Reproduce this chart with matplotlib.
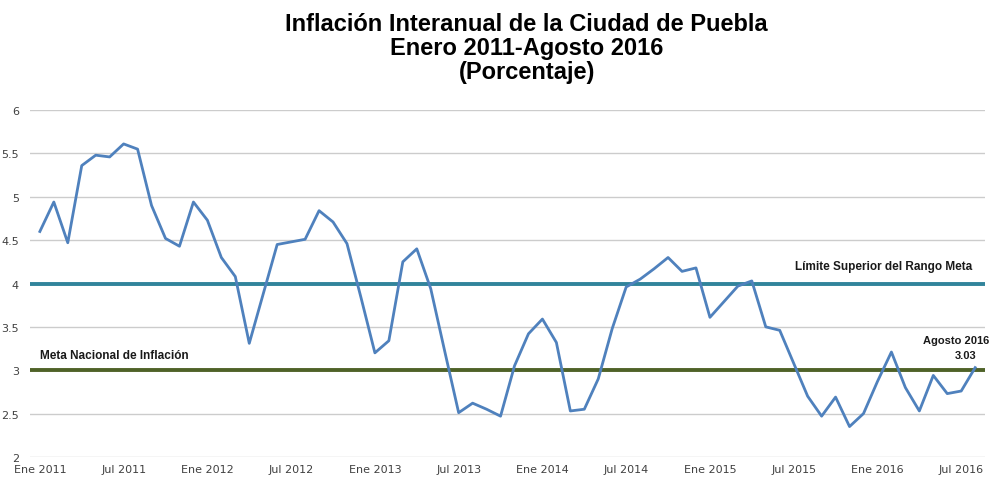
import matplotlib
matplotlib.use("Agg")
import matplotlib.pyplot as plt

# datos (inflacion interanual, %)
meses = ["Ene", "Feb", "Mar", "Abr", "May", "Jun",
         "Jul", "Ago", "Sep", "Oct", "Nov", "Dic"]
anios = [2011, 2012, 2013, 2014, 2015, 2016]

inflacion = [
    4.60, 4.94, 4.47, 5.36, 5.48, 5.46, 5.61, 5.55, 4.90, 4.52, 4.43, 4.94,  # 2011
    4.73, 4.30, 4.08, 3.31, 3.88, 4.45, 4.48, 4.51, 4.84, 4.71, 4.46, 3.84,  # 2012
    3.20, 3.34, 4.25, 4.40, 3.94, 3.22, 2.51, 2.62, 2.55, 2.47, 3.05, 3.42,  # 2013
    3.59, 3.32, 2.53, 2.55, 2.90, 3.48, 3.96, 4.05, 4.17, 4.30, 4.14, 4.18,  # 2014
    3.61, 3.79, 3.97, 4.03, 3.50, 3.46, 3.08, 2.70, 2.47, 2.69, 2.35, 2.50,  # 2015
    2.87, 3.21, 2.80, 2.53, 2.94, 2.73, 2.76, 3.03,                          # 2016
]
limite_superior = 4.0
meta_nacional = 3.0

etiquetas = []
for a in anios:
    for m in meses:
        etiquetas.append(f"{m} {a}")
etiquetas = etiquetas[:len(inflacion)]

fuente = "Liberation Sans"

fig = plt.figure(figsize=(10.03, 4.81), dpi=100)
ax = fig.add_axes([0.030, 0.048, 0.952, 0.721])

x = list(range(len(inflacion)))
ax.plot(x, inflacion, color="#4f81bd", lw=2.0, zorder=4)
ax.axhline(limite_superior, color="#31849b", lw=2.8, zorder=3)
ax.axhline(meta_nacional, color="#4f6228", lw=2.8, zorder=3)

ax.set_xlim(-0.7, 67.7)
ax.set_ylim(2, 6)
ax.set_yticks([2, 2.5, 3, 3.5, 4, 4.5, 5, 5.5, 6])
ax.set_yticklabels(["2", "2.5", "3", "3.5", "4", "4.5", "5", "5.5", "6"])
ax.set_xticks(x[::6])
ax.set_xticklabels(etiquetas[::6])
ax.tick_params(length=0, labelsize=8, colors="#404040")
ax.tick_params(axis="x", pad=5)
ax.tick_params(axis="y", pad=8)

ax.grid(axis="y", color="#cccccc", lw=1)
ax.set_axisbelow(True)
for s in ax.spines.values():
    s.set_visible(False)

ax.text(66.8, 4.2, "Límite Superior del Rango Meta", ha="right", va="center",
        fontsize=8.5, fontweight="bold", color="#1a1a1a", family=fuente)
ax.text(0.0, 3.17, "Meta Nacional de Inflación", ha="left", va="center",
        fontsize=8.5, fontweight="bold", color="#1a1a1a", family=fuente)
ax.text(68.0, 3.35, "Agosto 2016", ha="right", va="center",
        fontsize=8, fontweight="bold", color="#1a1a1a", family=fuente, clip_on=False)
ax.text(67.1, 3.18, "3.03", ha="right", va="center",
        fontsize=8, fontweight="bold", color="#1a1a1a", family=fuente)

fig.text(0.525, 0.973, "Inflación Interanual de la Ciudad de Puebla\nEnero 2011-Agosto 2016\n(Porcentaje)",
         ha="center", va="top", fontsize=17, fontweight="bold", family=fuente,
         linespacing=1.05)

fig.savefig("out.png", dpi=100)
